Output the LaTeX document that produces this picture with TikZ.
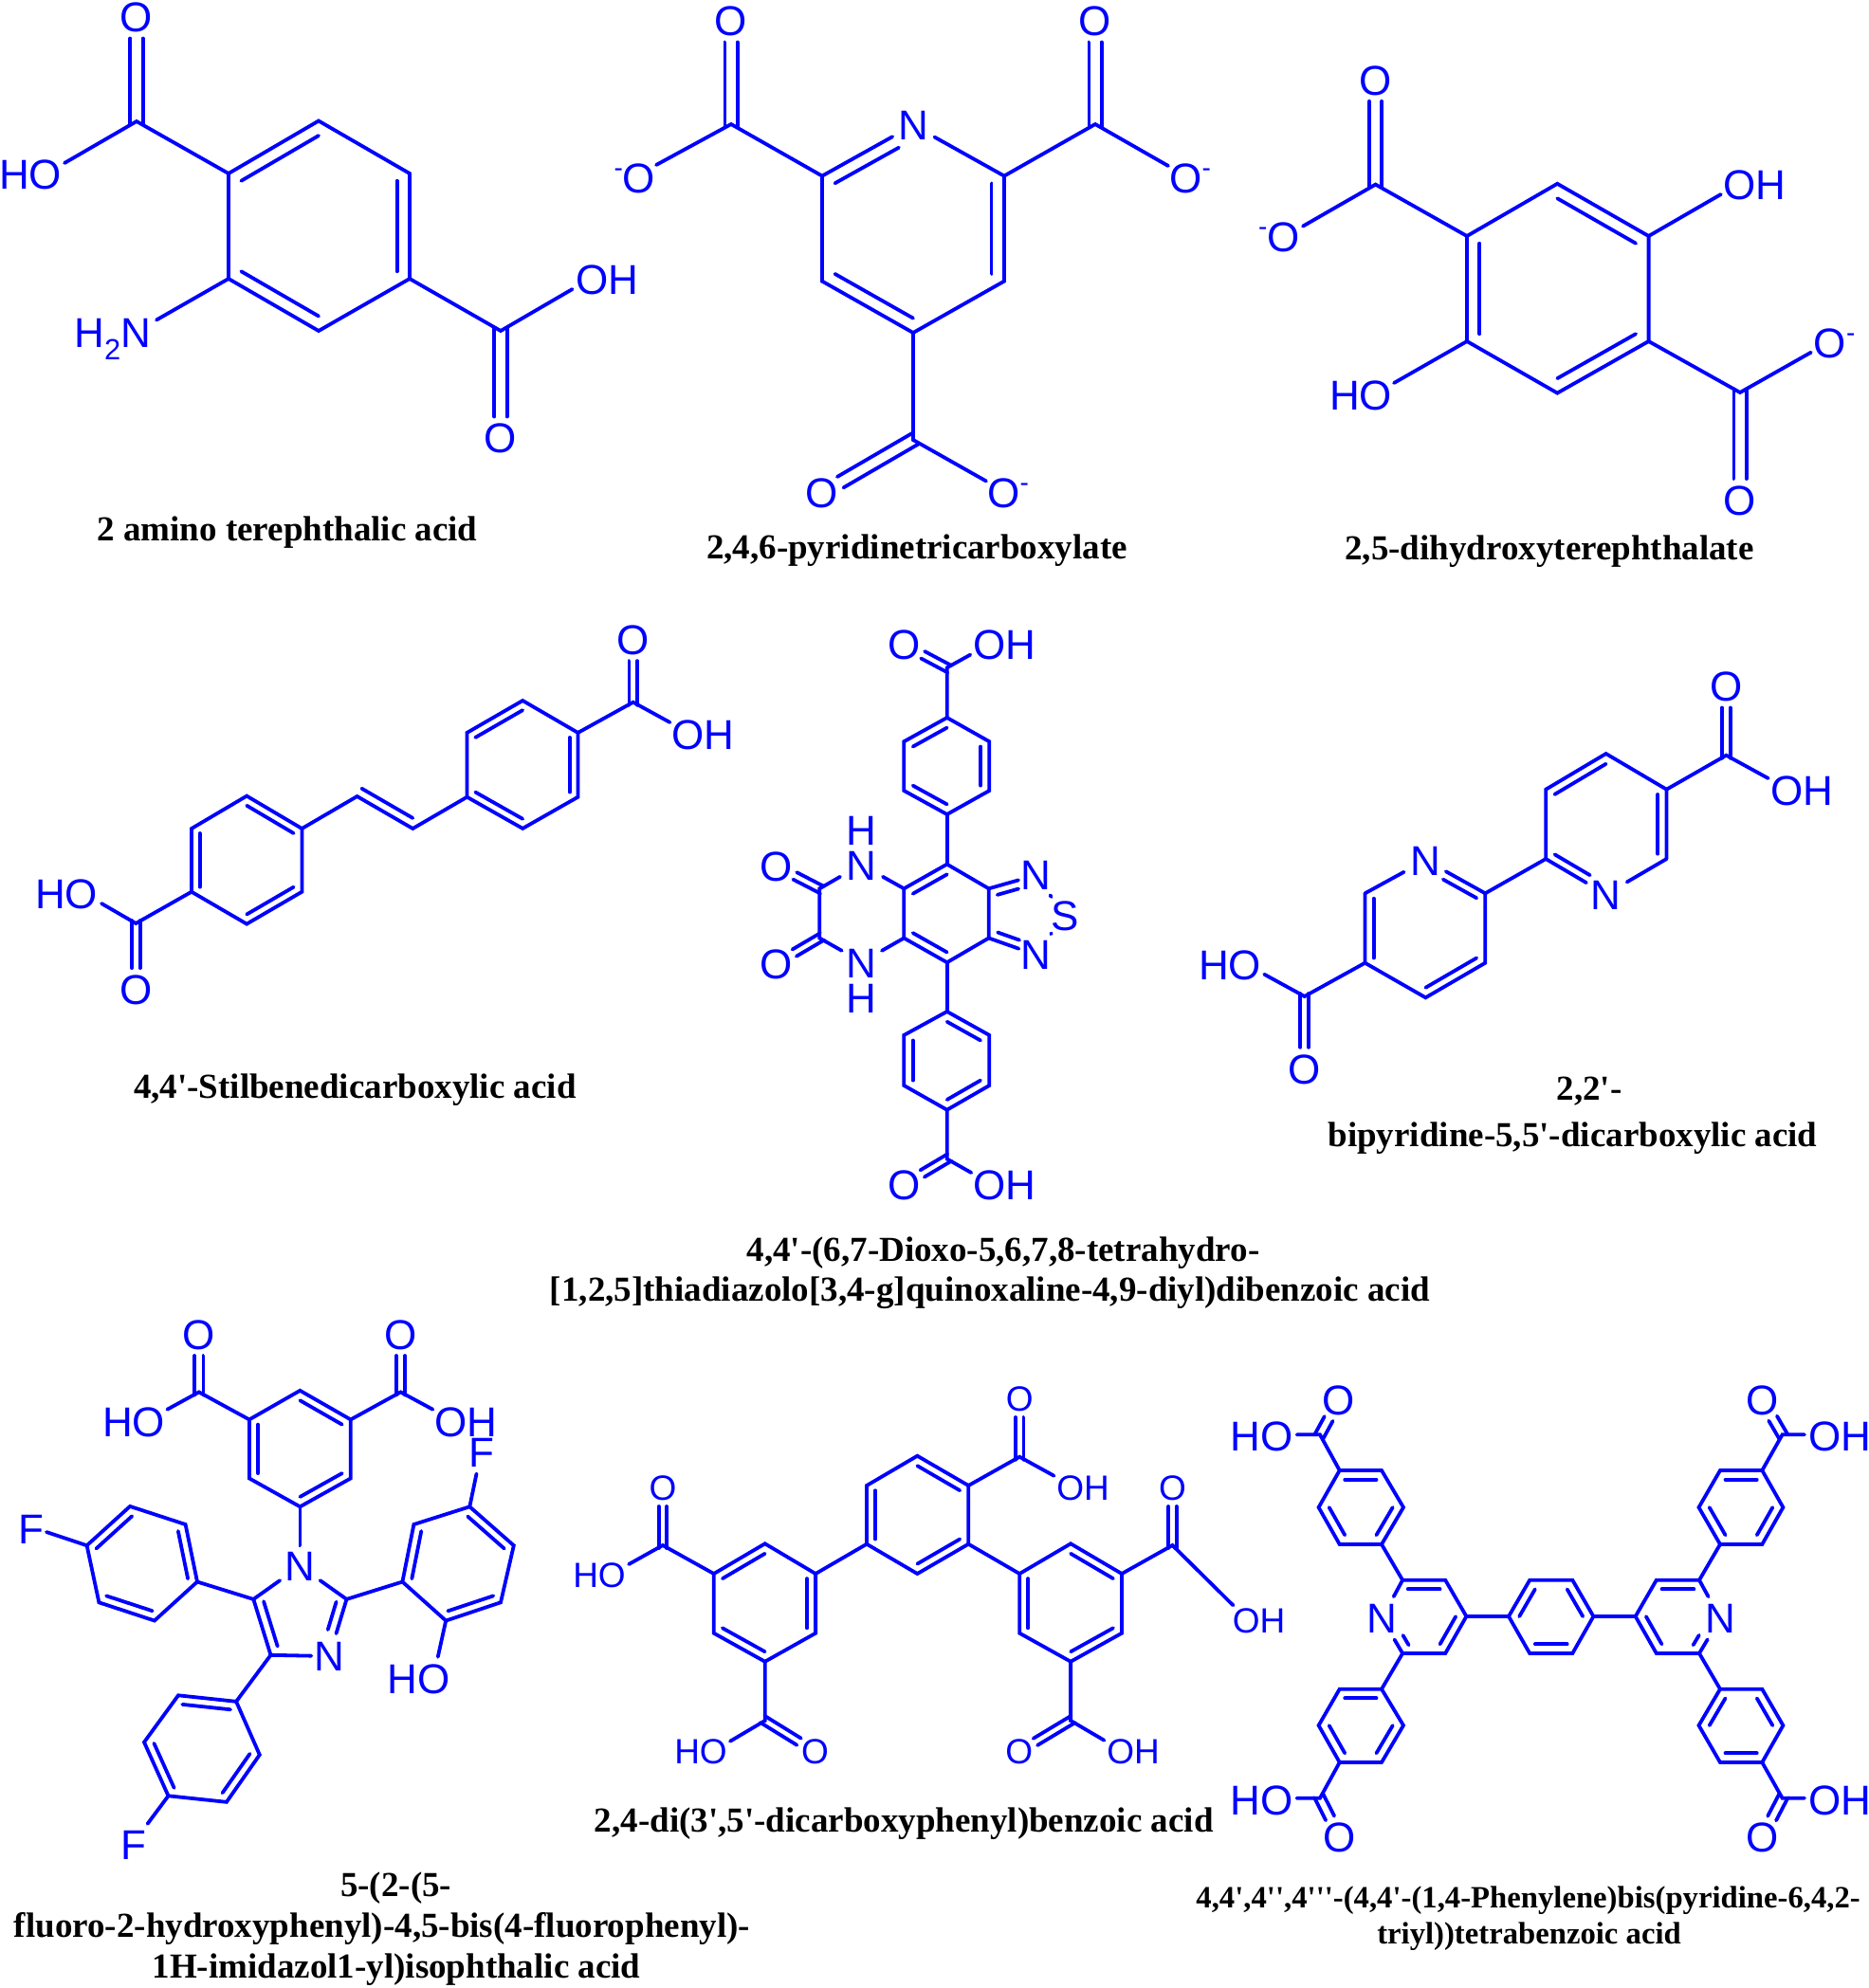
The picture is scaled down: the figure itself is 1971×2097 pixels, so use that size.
\documentclass[tikz,border=0pt]{standalone}
\usepackage{fontspec}
\usetikzlibrary{calc}
\newfontfamily\atomfont{Liberation Sans}
\newfontfamily\namefont{Liberation Serif}
\tikzset{bond/.style={line width=3.8pt, draw=blue, line cap=round},
atom/.style={font=\atomfont\fontsize{44}{44}\selectfont, text=blue, inner sep=0pt, text height=31.5pt, text depth=0pt},
stackatom/.style={font=\atomfont\fontsize{44}{37}\selectfont, text=blue, inner sep=0pt, align=center},
smallatom/.style={font=\atomfont\fontsize{37}{37}\selectfont, text=blue, inner sep=0pt, text height=26.5pt, text depth=0pt},
molname/.style={font=\namefont\bfseries\fontsize{37}{37}\selectfont, text=black, inner sep=0pt, anchor=base},
smallname/.style={molname, font=\namefont\bfseries\fontsize{32.7}{32.7}\selectfont}}
%six ring atoms, clockwise, and the ring centre named #1
\newcommand{\hexat}[7]{
 \coordinate (#11) at (#2); \coordinate (#12) at (#3); \coordinate (#13) at (#4);
 \coordinate (#14) at (#5); \coordinate (#15) at (#6); \coordinate (#16) at (#7);
 \coordinate (#1) at ($(#11)!.5!(#14)$);}
\newcommand{\hexloop}[1]{\draw[bond] (#11) -- (#12) -- (#13) -- (#14) -- (#15) -- (#16) -- cycle;}
%inner lines of a ring
\newcommand{\ringdbl}[3][.14]{\foreach \p/\q in {#3} \draw[bond] ($(#2\p)!#1!(#2)$) -- ($(#2\q)!#1!(#2)$);}
%line parallel to a--b on its right side: a, b, offset, cut at a, cut at b
\newcommand{\offbond}[5]{\draw[bond, shorten <=#4pt, shorten >=#5pt] ($(#1)!#3pt!-90:(#2)$) -- ($(#2)!#3pt!90:(#1)$);}
%C=O towards the node of the O
\newcommand{\dbo}[4][22.5]{\offbond{#2}{#3}{#4}{-3}{#1}\offbond{#3}{#2}{#4}{#1}{-3}}
\newcommand{\onegr}{O\rlap{\raisebox{17pt}{\fontsize{28}{28}\selectfont -}}}
\newcommand{\onegl}{\llap{\raisebox{17pt}{\fontsize{28}{28}\selectfont -}}O}
\begin{document}
\begin{tikzpicture}[x=1pt,y=-1pt]
 \useasboundingbox (0,0) rectangle (1971,2097);

 %Drawing 2 amino terephthalic acid
 \hexat{a}{241,183}{336,127.5}{432,183}{432,294}{336,349}{241,294}
 \hexloop{a}
 \ringdbl{a}{1/2,3/4,5/6}
 \coordinate (ak1) at (144,128);
 \coordinate (ak2) at (528,349);
 \node[atom] (ao1) at (144,18) {O};
 \node[atom] (ao2) at (528,462) {O};
 \node[atom] (aoh1) at (32,184) {HO};
 \node[atom] (aoh2) at (640,295) {OH};
 \node[atom] (an1) at (119,351) {H\textsubscript{2}N};
 \coordinate (ae1) at (68,172);
 \coordinate (ae2) at (165,337.5);
 \coordinate (ae3) at (603.6,305);
 \draw[bond] (a1) -- (ak1) -- (ae1);
 \draw[bond] (a6) -- (ae2);
 \draw[bond] (a4) -- (ak2) -- (ae3);
 \dbo{ak1}{ao1}{6.7}
 \dbo{ak2}{ao2}{6.7}
 \node[molname] (aname) at (303,570) {2 amino terephthalic acid};

 %Drawing 2,4,6-pyridinetricarboxylate
 \hexat{b}{963,132}{1059,185.6}{1059,296.6}{963,351}{867,296.6}{867,185.6}
 \node[atom] (bn) at (b1) {N};
 \draw[bond] (b2) -- (b3) -- (b4) -- (b5) -- (b6);
 \draw[bond, shorten >=25pt] (b6) -- (bn.center);
 \draw[bond, shorten >=25.7pt] (b2) -- (bn.center);
 \ringdbl{b}{2/3,4/5}
 \offbond{b6}{bn}{13.3}{8}{24.7}
 \coordinate (bk1) at (771,131);
 \coordinate (bk2) at (1155,131);
 \coordinate (bk3) at (963,464);
 \node[atom] (bo1) at (771,22) {O};
 \node[atom] (bo2) at (1155,22) {O};
 \node[atom] (bo3) at (674,187.5) {\onegl};
 \node[atom] (bo4) at (1250.6,187.5) {\onegr};
 \node[atom] (bo5) at (866.7,520) {O};
 \node[atom] (bo6) at (1058.6,520) {\onegr};
 \coordinate (be1) at (692,174);
 \coordinate (be2) at (1232,175);
 \coordinate (be3) at (1040,507.5);
 \draw[bond] (b6) -- (bk1) -- (be1);
 \draw[bond] (b2) -- (bk2) -- (be2);
 \draw[bond] (b4) -- (bk3) -- (be3);
 \dbo{bk1}{bo1}{6.6}
 \dbo{bk2}{bo2}{6.6}
 \dbo{bk3}{bo5}{6.6}
 \node[molname] (bname) at (967,589) {2,4,6-pyridinetricarboxylate};

 %Drawing 2,5-dihydroxyterephthalate
 \hexat{c}{1642.3,193.8}{1738.6,249}{1738.6,360}{1642.3,414.6}{1547,360}{1547,249}
 \hexloop{c}
 \ringdbl{c}{1/2,3/4,5/6}
 \coordinate (ck1) at (1450.6,194.6);
 \coordinate (ck2) at (1835,414);
 \node[atom] (co1) at (1450.6,84.3) {O};
 \node[atom] (co2) at (1353.5,250) {\onegl};
 \node[atom] (co3) at (1930,362) {\onegr};
 \node[atom] (co4) at (1835,527.5) {O};
 \node[atom] (coh1) at (1850,195) {OH};
 \node[atom] (coh2) at (1435,416.5) {HO};
 \coordinate (ce1) at (1374,238.6);
 \coordinate (ce2) at (1814.8,205);
 \coordinate (ce3) at (1470,404);
 \coordinate (ce4) at (1909.8,371.7);
 \draw[bond] (c6) -- (ck1) -- (ce1);
 \draw[bond] (c2) -- (ce2);
 \draw[bond] (c5) -- (ce3);
 \draw[bond] (c3) -- (ck2) -- (ce4);
 \dbo{ck1}{co1}{6.6}
 \dbo{ck2}{co4}{6.6}
 \node[molname] (cname) at (1634,590.6) {2,5-dihydroxyterephthalate};

 %Drawing 4,4'-Stilbenedicarboxylic acid
 \hexat{da}{551.2,739}{609.5,772.9}{609.5,840.7}{551.2,873.9}{492.5,840.7}{492.5,772.9}
 \hexat{db}{260.2,839.6}{318.4,874}{318.4,940.7}{260.2,974.6}{202,940.7}{202,874}
 \hexloop{da}
 \hexloop{db}
 \ringdbl[.15]{da}{2/3,4/5,6/1}
 \ringdbl[.15]{db}{1/2,3/4,5/6}
 \coordinate (dv1) at (376.6,840);
 \coordinate (dv2) at (435.3,874);
 \draw[bond] (db2) -- (dv1) -- (dv2) -- (da5);
 \offbond{dv2}{dv1}{9.6}{5.5}{0}
 \coordinate (dk1) at (667.7,740.7);
 \coordinate (dk2) at (143.3,974);
 \node[atom] (do1) at (667.7,674.6) {O};
 \node[atom] (do2) at (143.3,1043.6) {O};
 \node[atom] (doh1) at (741,774.6) {OH};
 \node[atom] (doh2) at (70,942.5) {HO};
 \coordinate (de1) at (706.5,762);
 \coordinate (de2) at (107,953);
 \draw[bond] (da2) -- (dk1) -- (de1);
 \draw[bond] (db5) -- (dk2) -- (de2);
 \dbo{dk1}{do1}{4.3}
 \dbo{dk2}{do2}{4.3}
 \node[molname] (dname) at (374.4,1158.6) {4,4'-Stilbenedicarboxylic acid};

 %Drawing the thiadiazoloquinoxaline
 \hexat{ea}{998.7,757}{1043.3,782.2}{1043.3,834}{998.7,859}{953.3,834}{953.3,782.2}
 \hexat{eb}{998.7,911.6}{1042.7,937.3}{1042.7,989.5}{998.7,1015.2}{953.3,989.5}{953.3,937.3}
 \hexat{ec}{998.7,1067}{1043.3,1091.9}{1043.3,1145}{998.7,1170.7}{953.3,1145}{953.3,1091.9}
 \hexloop{ea}
 \hexloop{eb}
 \hexloop{ec}
 \ringdbl[.207]{ea}{6/1,2/3,4/5}
 \ringdbl[.207]{eb}{6/1,4/5}
 \ringdbl[.207]{ec}{1/2,3/4,5/6}
 \draw[bond] (ea4) -- (eb1);
 \draw[bond] (eb4) -- (ec1);
 \coordinate (ek1) at (998.7,704.3);
 \coordinate (ek2) at (998.7,1222.5);
 \coordinate (ek3) at (864.3,937.3);
 \coordinate (ek4) at (864.3,989.5);
 \node[atom] (eo1) at (953.3,680.2) {O};
 \node[atom] (eo2) at (953.3,1249.4) {O};
 \node[atom] (eo3) at (818.3,913.6) {O};
 \node[atom] (eo4) at (818.3,1016.5) {O};
 \node[atom] (eoh1) at (1059,680.2) {OH};
 \node[atom] (eoh2) at (1059,1249.4) {OH};
 \node[stackatom] (en1) at (908.3,895) {H\\N};
 \node[stackatom] (en2) at (908.3,1035) {N\\H};
 \node[atom] (en3) at (1092.3,923.2) {N};
 \node[atom] (en4) at (1092.3,1007) {N};
 \node[atom] (es1) at (1122.7,965.5) {S};
 \coordinate (ee1) at (1023.3,690.6);
 \coordinate (ee2) at (1024.3,1237);
 \coordinate (ee3) at (886,924.8);
 \coordinate (ee4) at (931,924.8);
 \coordinate (ee5) at (887.7,1002.8);
 \coordinate (ee6) at (930,1002.8);
 \draw[bond] (ea1) -- (ek1) -- (ee1);
 \draw[bond] (ec4) -- (ek2) -- (ee2);
 \draw[bond] (ee3) -- (ek3) -- (ek4) -- (ee5);
 \draw[bond] (ee4) -- (eb6);
 \draw[bond] (ee6) -- (eb5);
 \dbo{ek1}{eo1}{4.2}
 \dbo{ek2}{eo2}{4.2}
 \dbo{ek3}{eo3}{4.2}
 \dbo{ek4}{eo4}{4.2}
 \draw[bond, shorten >=19pt] (eb2) -- (en3.center);
 \draw[bond, shorten >=19pt] (eb3) -- (en4.center);
 \offbond{eb2}{en3}{8.8}{6.9}{21.4}
 \offbond{en4}{eb3}{8.8}{21.4}{6.9}
 \draw[bond, shorten <=26pt, shorten >=24pt] (en3.center) -- (es1.center);
 \draw[bond, shorten <=27pt, shorten >=23.5pt] (en4.center) -- (es1.center);
 \node[molname] (ename1) at (1058,1330) {4,4'-(6,7-Dioxo-5,6,7,8-tetrahydro-};
 \node[molname] (ename2) at (1044,1372) {[1,2,5]thiadiazolo[3,4-g]quinoxaline-4,9-diyl)dibenzoic acid};

 %Drawing the bipyridine
 \hexat{fa}{1693.6,795}{1757.5,832.7}{1757.5,906}{1693.6,943.3}{1630.2,906}{1630.2,832.7}
 \hexat{fb}{1503.4,907.3}{1566.3,942.3}{1566.3,1015.7}{1503.4,1052.3}{1439.5,1015.7}{1439.5,942.3}
 \node[atom] (fn1) at (fa4) {N};
 \node[atom] (fn2) at (fb1) {N};
 \draw[bond] (fa5) -- (fa6) -- (fa1) -- (fa2) -- (fa3);
 \draw[bond] (fb2) -- (fb3) -- (fb4) -- (fb5) -- (fb6);
 \draw[bond] (fa5) -- (fb2);
 \draw[bond, shorten >=24pt] (fa5) -- (fn1.center);
 \draw[bond, shorten >=25.6pt] (fa3) -- (fn1.center);
 \draw[bond, shorten >=24.5pt] (fb2) -- (fn2.center);
 \draw[bond, shorten >=26pt] (fb6) -- (fn2.center);
 \ringdbl[.145]{fa}{6/1,2/3}
 \ringdbl[.145]{fb}{3/4,5/6}
 \offbond{fn1}{fa5}{8.8}{24.7}{5.7}
 \offbond{fn2}{fb2}{8.8}{26}{5.5}
 \coordinate (fk1) at (1820.4,796.7);
 \coordinate (fk2) at (1375.7,1051);
 \node[atom] (fo1) at (1820.4,724) {O};
 \node[atom] (fo2) at (1375.7,1127.3) {O};
 \node[atom] (foh1) at (1900,834) {OH};
 \node[atom] (foh2) at (1297,1017.3) {HO};
 \coordinate (fe1) at (1864.7,821);
 \coordinate (fe2) at (1333.2,1027.7);
 \draw[bond] (fa2) -- (fk1) -- (fe1);
 \draw[bond] (fb5) -- (fk2) -- (fe2);
 \dbo{fk1}{fo1}{4.4}
 \dbo{fk2}{fo2}{4.4}
 \node[molname] (fname1) at (1676,1160) {2,2'-};
 \node[molname] (fname2) at (1658.5,1209) {bipyridine-5,5'-dicarboxylic acid};

 %Drawing the imidazole
 \hexat{ga}{316.4,1466.8}{369.8,1497.4}{369.8,1559.4}{316.4,1589.3}{262.9,1559.4}{262.9,1497.4}
 \hexat{gb}{137.1,1588.9}{195.6,1608}{208,1668.5}{162.9,1709.5}{104.4,1690.3}{91.6,1630.2}
 \hexat{gc}{249.1,1794.8}{273.8,1851}{238.9,1900.8}{177.5,1894.3}{152,1837.7}{188,1788.3}
 \hexat{gd}{495.3,1589.3}{541.8,1630.2}{528,1690.3}{470.2,1709.5}{424.4,1668.5}{436.4,1608}
 \hexloop{ga}
 \hexloop{gb}
 \hexloop{gc}
 \hexloop{gd}
 \ringdbl[.17]{ga}{1/2,3/4,5/6}
 \ringdbl[.17]{gb}{6/1,2/3,4/5}
 \ringdbl[.17]{gc}{6/1,2/3,4/5}
 \ringdbl[.17]{gd}{1/2,3/4,5/6}
 \node[atom] (gn1) at (316.4,1652) {N};
 \node[atom] (gn3) at (347.3,1747) {N};
 \coordinate (gi2) at (365.5,1686.9);
 \coordinate (gi4) at (285.5,1745.8);
 \coordinate (gi5) at (267.3,1686.9);
 \draw[bond, shorten >=21.8pt] (ga4) -- (gn1.center);
 \draw[bond, shorten >=26pt] (gi5) -- (gn1.center);
 \draw[bond, shorten >=26pt] (gi2) -- (gn1.center);
 \draw[bond, shorten >=19pt] (gi4) -- (gn3.center);
 \draw[bond, shorten >=25pt] (gi2) -- (gn3.center);
 \draw[bond] (gi5) -- (gi4);
 \offbond{gi4}{gi5}{9.6}{6.7}{5.4}
 \offbond{gi2}{gn3}{9.6}{5.8}{26.3}
 \draw[bond] (gb3) -- (gi5);
 \draw[bond] (gd5) -- (gi2);
 \draw[bond] (gi4) -- (gc1);
 \coordinate (gk1) at (209.8,1468.4);
 \coordinate (gk2) at (422.5,1468.4);
 \node[atom] (go1) at (209.8,1407.5) {O};
 \node[atom] (go2) at (422.5,1407.5) {O};
 \node[atom] (goh1) at (141,1499.4) {HO};
 \node[atom] (goh2) at (491,1499.4) {OH};
 \node[atom] (goh3) at (441.5,1770.7) {HO};
 \node[atom] (gf1) at (507.6,1531.5) {F};
 \node[atom] (gf2) at (33,1613) {F};
 \node[atom] (gf3) at (141,1945.6) {F};
 \coordinate (ge1) at (176.4,1486.7);
 \coordinate (ge2) at (456.4,1486.7);
 \coordinate (ge3) at (502.5,1554.5);
 \coordinate (ge4) at (49,1616);
 \coordinate (ge5) at (155.6,1923.8);
 \coordinate (ge6) at (461.8,1747.7);
 \draw[bond] (ga6) -- (gk1) -- (ge1);
 \draw[bond] (ga2) -- (gk2) -- (ge2);
 \draw[bond] (gd1) -- (ge3);
 \draw[bond] (gb6) -- (ge4);
 \draw[bond] (gc4) -- (ge5);
 \draw[bond] (gd4) -- (ge6);
 \dbo{gk1}{go1}{4.6}
 \dbo{gk2}{go2}{4.6}
 \node[molname] (gname1) at (417.6,2000) {5-(2-(5-};
 \node[molname] (gname2) at (403,2043) {fluoro-2-hydroxyphenyl)-4,5-bis(4-fluorophenyl)-};
 \node[molname] (gname3) at (418,2086.7) {1H-imidazol1-yl)isophthalic acid};

 %Drawing 2,4-di(3',5'-dicarboxyphenyl)benzoic acid
 \hexat{ha}{967.4,1535.7}{1021.3,1567}{1021.3,1628.7}{967.4,1660}{914,1628.7}{914,1567}
 \hexat{hb}{806.7,1628.3}{860.1,1660}{860.1,1722.7}{806.7,1752.7}{752.8,1722.7}{752.8,1660}
 \hexat{hc}{1129.1,1628.3}{1183,1660}{1183,1722.7}{1129.1,1752.7}{1075.2,1722.7}{1075.2,1660}
 \hexloop{ha}
 \hexloop{hb}
 \hexloop{hc}
 \ringdbl[.168]{ha}{1/2,3/4,5/6}
 \ringdbl[.168]{hb}{6/1,2/3,4/5}
 \ringdbl[.168]{hc}{1/2,3/4,5/6}
 \draw[bond] (hb2) -- (ha5);
 \draw[bond] (ha3) -- (hc6);
 \coordinate (hk1) at (1075.2,1536.7);
 \coordinate (hk2) at (698.9,1630);
 \coordinate (hk3) at (1236.4,1630);
 \coordinate (hk4) at (806.7,1815);
 \coordinate (hk5) at (1129.1,1815);
 \node[smallatom] (ho1) at (1075.2,1475) {O};
 \node[smallatom] (ho2) at (698.9,1569) {O};
 \node[smallatom] (ho3) at (1236.4,1569) {O};
 \node[smallatom] (ho4) at (859.6,1847.7) {O};
 \node[smallatom] (ho5) at (1074.7,1847.7) {O};
 \node[smallatom] (hoh1) at (1142,1569) {OH};
 \node[smallatom] (hoh2) at (632,1661.7) {HO};
 \node[smallatom] (hoh3) at (1327.6,1709) {OH};
 \node[smallatom] (hoh4) at (739,1847.7) {HO};
 \node[smallatom] (hoh5) at (1195,1847.7) {OH};
 \coordinate (he1) at (1111.5,1556.7);
 \coordinate (he2) at (663.1,1650);
 \coordinate (he3) at (1300.4,1693.3);
 \coordinate (he4) at (770,1836.7);
 \coordinate (he5) at (1164.4,1835.7);
 \draw[bond] (ha2) -- (hk1) -- (he1);
 \draw[bond] (hb6) -- (hk2) -- (he2);
 \draw[bond] (hc2) -- (hk3) -- (he3);
 \draw[bond] (hb4) -- (hk4) -- (he4);
 \draw[bond] (hc4) -- (hk5) -- (he5);
 \dbo[20]{hk1}{ho1}{4.2}
 \dbo[20]{hk2}{ho2}{4.2}
 \dbo[20]{hk3}{ho3}{4.2}
 \dbo[20]{hk4}{ho4}{4.2}
 \dbo[20]{hk5}{ho5}{4.2}
 \node[molname] (hname) at (953.3,1932.7) {2,4-di(3',5'-dicarboxyphenyl)benzoic acid};

 %Drawing the tetrabenzoic acid
 \hexat{ia}{1412.7,1551}{1457,1551}{1480,1590}{1457,1629}{1412.7,1629}{1390.6,1590}
 \hexat{ib}{1814,1551}{1858.3,1551}{1880.4,1590}{1858.3,1629}{1814,1629}{1791.5,1590}
 \hexat{ic}{1412.7,1781.7}{1457,1781.7}{1480,1820}{1457,1859}{1412.7,1859}{1390.6,1820}
 \hexat{id}{1814,1781.7}{1858.3,1781.7}{1880.4,1820}{1858.3,1859}{1814,1859}{1791.5,1820}
 \hexat{ie}{1479.1,1666.7}{1524.2,1666.7}{1546.4,1705}{1524.2,1744}{1479.1,1744}{1457,1705}
 \hexat{im}{1613.2,1666.7}{1658.3,1666.7}{1680.4,1705}{1658.3,1744}{1613.2,1744}{1591,1705}
 \hexat{ig}{1746.8,1666.7}{1792,1666.7}{1814,1705}{1792,1744}{1746.8,1744}{1724.7,1705}
 \hexloop{ia}
 \hexloop{ib}
 \hexloop{ic}
 \hexloop{id}
 \hexloop{im}
 \ringdbl[.25]{ia}{1/2,3/4,5/6}
 \ringdbl[.25]{ib}{1/2,3/4,5/6}
 \ringdbl[.25]{ic}{1/2,3/4,5/6}
 \ringdbl[.25]{id}{2/3,4/5,6/1}
 \ringdbl[.25]{ie}{1/2,3/4}
 \ringdbl[.25]{im}{6/1,2/3,4/5}
 \ringdbl[.25]{ig}{1/2,5/6}
 \node[atom] (ien) at (1457.4,1707) {N};
 \node[atom] (ign) at (1814,1707) {N};
 \draw[bond] (ie1) -- (ie2) -- (ie3) -- (ie4) -- (ie5);
 \draw[bond] (ig2) -- (ig1) -- (ig6) -- (ig5) -- (ig4);
 \draw[bond, shorten >=26pt] (ie1) -- (ien.center);
 \draw[bond, shorten >=26pt] (ie5) -- (ien.center);
 \draw[bond, shorten >=26pt] (ig2) -- (ign.center);
 \draw[bond, shorten >=26pt] (ig4) -- (ign.center);
 \offbond{ie5}{ien}{10}{4.3}{26.7}
 \offbond{ign}{ig4}{10}{26.7}{4.3}
 \draw[bond] (ie3) -- (im6);
 \draw[bond] (im3) -- (ig6);
 \draw[bond] (ia4) -- (ie1);
 \draw[bond] (ic2) -- (ie5);
 \draw[bond] (ib5) -- (ig2);
 \draw[bond] (id1) -- (ig4);
 \coordinate (ik1) at (1392,1513.3);
 \coordinate (ik2) at (1879.6,1513.3);
 \coordinate (ik3) at (1392,1896.7);
 \coordinate (ik4) at (1879.6,1896.7);
 \node[atom] (io1) at (1411.9,1476.7) {O};
 \node[atom] (io2) at (1858.3,1476.7) {O};
 \node[atom] (io3) at (1412.7,1938) {O};
 \node[atom] (io4) at (1858.3,1938) {O};
 \node[atom] (ioh1) at (1330.5,1515) {HO};
 \node[atom] (ioh2) at (1940,1515) {OH};
 \node[atom] (ioh3) at (1330.5,1898.3) {HO};
 \node[atom] (ioh4) at (1940,1898.3) {OH};
 \coordinate (ix1) at (1367.6,1513.3);
 \coordinate (ix2) at (1903,1513.3);
 \coordinate (ix3) at (1367.6,1896.7);
 \coordinate (ix4) at (1903,1896.7);
 \draw[bond] (ia1) -- (ik1) -- (ix1);
 \draw[bond] (ib2) -- (ik2) -- (ix2);
 \draw[bond] (ic5) -- (ik3) -- (ix3);
 \draw[bond] (id4) -- (ik4) -- (ix4);
 \dbo{ik1}{io1}{5}
 \dbo{ik2}{io2}{5}
 \dbo{ik3}{io3}{5}
 \dbo{ik4}{io4}{5}
 \node[smallname] (iname1) at (1611.6,2012.7) {4,4',4'',4'''-(4,4'-(1,4-Phenylene)bis(pyridine-6,4,2-};
 \node[smallname] (iname2) at (1612.5,2050.7) {triyl))tetrabenzoic acid};
\end{tikzpicture}
\end{document}
